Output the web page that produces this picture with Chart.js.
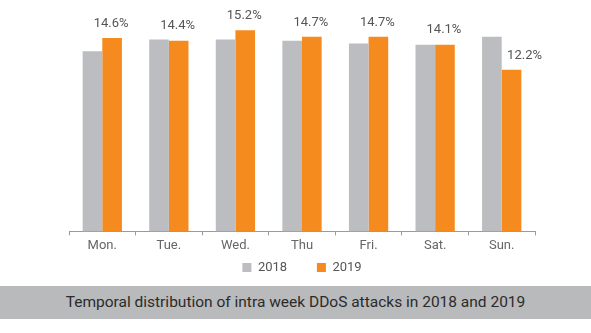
<!DOCTYPE html>
<html>
<head>
<meta charset="utf-8">
<script src="https://cdn.jsdelivr.net/npm/chart.js@4/dist/chart.umd.min.js"></script>
<style>
  body { margin: 0; background: #fff; font-family: Roboto, sans-serif; }
  #wrap { position: relative; width: 591px; height: 284px; }
  #caption {
    position: absolute; left: 0; top: 286px; width: 591px; height: 33px;
    background: #b9babc; color: #2b2b2b; font-size: 15.5px;
    line-height: 33px; text-align: center;
  }
</style>
</head>
<body>
<div id="wrap"><canvas id="chart"></canvas></div>
<div id="caption">Temporal distribution of intra week DDoS attacks in 2018 and 2019</div>
<script>
// days of the week
var days = ['Mon.', 'Tue.', 'Wed.', 'Thu', 'Fri.', 'Sat.', 'Sun.'];
// share of attacks, %
var share2018 = [13.6, 14.5, 14.5, 14.4, 14.2, 14.1, 14.7];
var share2019 = [14.6, 14.4, 15.2, 14.7, 14.7, 14.1, 12.2];

// labels above the 2019 bars
var barLabels = {
    id: 'barLabels',
    afterDatasetsDraw: function(chart) {
        var ctx = chart.ctx;
        var meta = chart.getDatasetMeta(1);
        ctx.save();
        ctx.font = '13px Roboto';
        ctx.fillStyle = '#555';
        ctx.textAlign = 'center';
        ctx.textBaseline = 'bottom';
        meta.data.forEach(function(bar, i) {
            // last label sits a bit to the right in the original
            var dx = (i === meta.data.length - 1) ? 13 : -1;
            ctx.fillText(share2019[i].toFixed(1) + '%', bar.x + dx, bar.y - 8);
        });
        ctx.restore();
    }
};

new Chart(document.getElementById('chart'), {
    type: 'bar',
    data: {
        labels: days,
        datasets: [{
            label: '2018',
            data: share2018,
            backgroundColor: '#bcbdc0',
            categoryPercentage: 0.59,
            barPercentage: 1
        }, {
            label: '2019',
            data: share2019,
            backgroundColor: '#f58a1f',
            categoryPercentage: 0.59,
            barPercentage: 1
        }]
    },
    options: {
        responsive: true,
        maintainAspectRatio: false,
        animation: false,
        layout: { padding: { left: 69, right: 56, top: 5, bottom: 0 } },
        scales: {
            y: { display: false, min: 0, max: 17.1 },
            x: {
                border: { color: '#9a9a9a' },
                grid: { drawOnChartArea: false, drawTicks: true, tickLength: 4, color: '#9a9a9a' },
                ticks: { color: '#666', font: { family: 'Roboto', size: 13 }, padding: 3 }
            }
        },
        plugins: {
            legend: {
                position: 'bottom',
                labels: {
                    boxWidth: 9, boxHeight: 9, padding: 4,
                    color: '#555', font: { family: 'Roboto', size: 13 },
                    generateLabels: function(chart) {
                        var items = Chart.defaults.plugins.legend.labels.generateLabels(chart);
                        // wider gap between the two entries
                        items[0].text += '        ';
                        return items;
                    }
                }
            },
            tooltip: { enabled: false }
        }
    },
    plugins: [barLabels]
});
</script>
</body>
</html>
